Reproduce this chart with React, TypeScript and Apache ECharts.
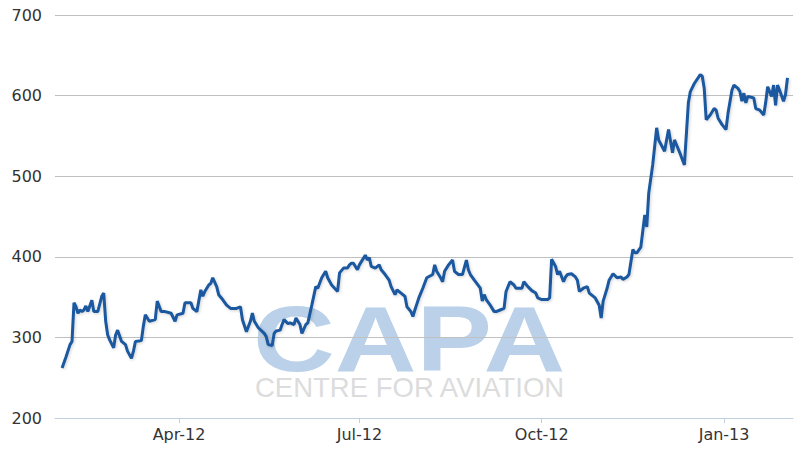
import React, { useEffect, useRef } from "react";
import * as echarts from "echarts";

// Trading days, grouped by month: [year, month, days]
const tradingDays: Array<[number, number, number[]]> = [
  [2012, 2, [2, 4, 6, 7, 8, 9, 10, 11, 12, 13, 14, 15, 17, 18, 20, 22, 23, 24, 25, 26, 28, 29]],
  [2012, 3, [1, 3, 5, 6, 8, 9, 10, 13, 14, 15, 17, 20, 21, 23, 25, 28, 30, 31]],
  [2012, 4, [3, 4, 7, 8, 10, 12, 13, 14, 16, 17, 18, 20, 21, 23, 25, 27, 30]],
  [2012, 5, [2, 3, 5, 7, 8, 9, 11, 14, 15, 16, 18, 19, 20, 22, 23, 24, 26, 27, 29, 30]],
  [2012, 6, [1, 2, 4, 5, 7, 9, 10, 12, 14, 15, 17, 20, 21, 23, 25, 26, 27, 28, 30]],
  [2012, 7, [1, 2, 4, 5, 6, 7, 9, 11, 12, 14, 16, 17, 19, 20, 22, 24, 25, 27, 28, 29, 31]],
  [2012, 8, [2, 4, 7, 8, 9, 11, 12, 13, 15, 17, 18, 20, 22, 24, 25, 26, 28, 31]],
  [2012, 9, [1, 2, 3, 5, 7, 8, 10, 12, 13, 15, 17, 18, 21, 22, 24, 26, 28, 29]],
  [2012, 10, [1, 4, 5, 6, 8, 9, 10, 12, 13, 14, 16, 18, 19, 20, 22, 24, 25, 28, 30, 31]],
  [2012, 11, [1, 3, 4, 6, 8, 10, 11, 13, 14, 16, 17, 18, 20, 22, 23, 24, 26, 28, 29]],
  [2012, 12, [2, 3, 4, 6, 7, 8, 10, 12, 14, 15, 17, 20, 21, 22, 23, 25, 27, 28, 29, 31]],
  [2013, 1, [2, 3, 5, 6, 8, 9, 10, 11, 12, 13, 16, 17, 19, 21, 22, 23, 25, 26, 27, 28, 29, 31]],
  [2013, 2, [1, 2]],
];

const prices: number[] = [
  // Feb 2012
  262, 276, 291, 295, 343, 338, 330, 334, 332, 334, 339, 332, 346, 332, 332, 351, 355, 320, 303, 297, 287, 303,
  // Mar
  309, 295, 291, 283, 274, 283, 295, 296, 314, 328, 320, 322, 345, 332, 332, 330, 320, 328,
  // Apr
  330, 343, 343, 336, 332, 359, 351, 357, 365, 367, 374, 363, 353, 347, 340, 336, 336,
  // May
  338, 322, 307, 320, 330, 320, 312, 305, 301, 291, 290, 305, 308, 309, 316, 322, 317, 318, 316, 324,
  // Jun
  316, 305, 316, 318, 340, 363, 361, 374, 382, 374, 365, 357, 380, 386, 386, 390, 392, 392, 384,
  // Jul
  390, 394, 402, 396, 399, 388, 386, 390, 384, 378, 371, 363, 353, 359, 355, 351, 338, 332, 326, 334, 349,
  // Aug
  361, 374, 378, 390, 382, 374, 369, 382, 390, 396, 382, 378, 378, 396, 384, 378, 371, 361,
  // Sep
  345, 353, 347, 340, 332, 332, 334, 336, 357, 369, 365, 361, 361, 369, 363, 358, 355, 349,
  // Oct
  347, 347, 349, 397, 388, 378, 382, 369, 375, 378, 379, 375, 371, 357, 361, 363, 355, 349, 340, 324,
  // Nov
  345, 361, 371, 379, 374, 375, 372, 375, 378, 409, 405, 405, 412, 452, 437, 479, 514, 560, 545,
  // Dec
  531, 545, 558, 529, 545, 539, 527, 514, 591, 605, 615, 626, 624, 609, 570, 576, 584, 582, 572, 564,
  // Jan 2013
  558, 578, 607, 613, 609, 605, 593, 603, 591, 599, 597, 584, 582, 576, 591, 611, 599, 613, 588, 613, 607, 593,
  // Feb 2013
  601, 622,
];

const tickDates: Array<[number, number, number]> = [
  [2012, 4, 1],
  [2012, 7, 1],
  [2012, 10, 1],
  [2013, 1, 1],
];
const tickLabels = ["Apr-12", "Jul-12", "Oct-12", "Jan-13"];

const yTicks = { min: 200, max: 700, interval: 100 };

const toTime = (y: number, m: number, d: number, h = 0) => new Date(y, m - 1, d, h).getTime();

export default function App() {
  const ref = useRef<HTMLDivElement>(null);

  useEffect(() => {
    if (!ref.current) return;
    const chart = echarts.init(ref.current, undefined, { renderer: "svg" });

    const times: number[] = [];
    tradingDays.forEach(([y, m, days]) => days.forEach((d) => times.push(toTime(y, m, d))));
    const data = times.map((t, i) => [t, prices[i]]);

    const tickTimes = tickDates.map(([y, m, d]) => toTime(y, m, d));
    const labelFor = (v: number) => {
      const i = tickTimes.findIndex((t) => Math.abs(t - v) < 3600 * 1000 * 12);
      return i >= 0 ? tickLabels[i] : "";
    };

    chart.setOption({
      animation: false,
      backgroundColor: "#ffffff",
      grid: { left: 55, right: 7, top: 15, bottom: 38, containLabel: false },
      graphic: [
        {
          type: "text",
          z: -10,
          x: 253,
          y: 339,
          scaleX: 1.23,
          silent: true,
          style: {
            text: "CAPA",
            fill: "#bad1e9",
            font: "bold 92px 'Liberation Sans', Arial, sans-serif",
            textVerticalAlign: "middle",
          },
        },
        {
          type: "text",
          z: -10,
          x: 255,
          y: 387,
          silent: true,
          style: {
            text: "CENTRE FOR AVIATION",
            fill: "#dcdcdc",
            font: "27.5px 'Liberation Sans', Arial, sans-serif",
            textVerticalAlign: "middle",
          },
        },
      ],
      xAxis: {
        type: "value",
        min: toTime(2012, 1, 29, 10),
        max: toTime(2013, 2, 4, 19),
        axisLine: { show: true, onZero: false, lineStyle: { color: "#c0d0e0", width: 1 } },
        axisTick: {
          show: true,
          customValues: tickTimes,
          length: 5,
          lineStyle: { color: "#c0d0e0" },
        },
        axisLabel: {
          customValues: tickTimes,
          formatter: (v: number) => labelFor(v),
          color: "#333333",
          fontFamily: "'DejaVu Sans', Verdana, sans-serif",
          fontSize: 16,
          margin: 8,
        },
        splitLine: { show: false },
      },
      yAxis: {
        type: "value",
        min: yTicks.min,
        max: yTicks.max,
        interval: yTicks.interval,
        axisLine: { show: false },
        axisTick: { show: false },
        axisLabel: {
          color: "#333333",
          fontFamily: "'DejaVu Sans', Verdana, sans-serif",
          fontSize: 16,
          margin: 13,
          padding: [6, 0, 0, 0],
        },
        splitLine: { show: true, lineStyle: { color: "#c0c0c0", width: 1 } },
      },
      series: [
        {
          type: "line",
          data,
          showSymbol: false,
          symbol: "none",
          z: 5,
          lineStyle: {
            color: "#1a589f",
            width: 3,
            shadowColor: "rgba(0,0,0,0.18)",
            shadowBlur: 3,
            shadowOffsetX: 1,
            shadowOffsetY: 1,
          },
        },
      ],
    });

    return () => chart.dispose();
  }, []);

  return (
    <div
      ref={ref}
      style={{ position: "absolute", left: 0, top: 0, width: 800, height: 456 }}
    />
  );
}
